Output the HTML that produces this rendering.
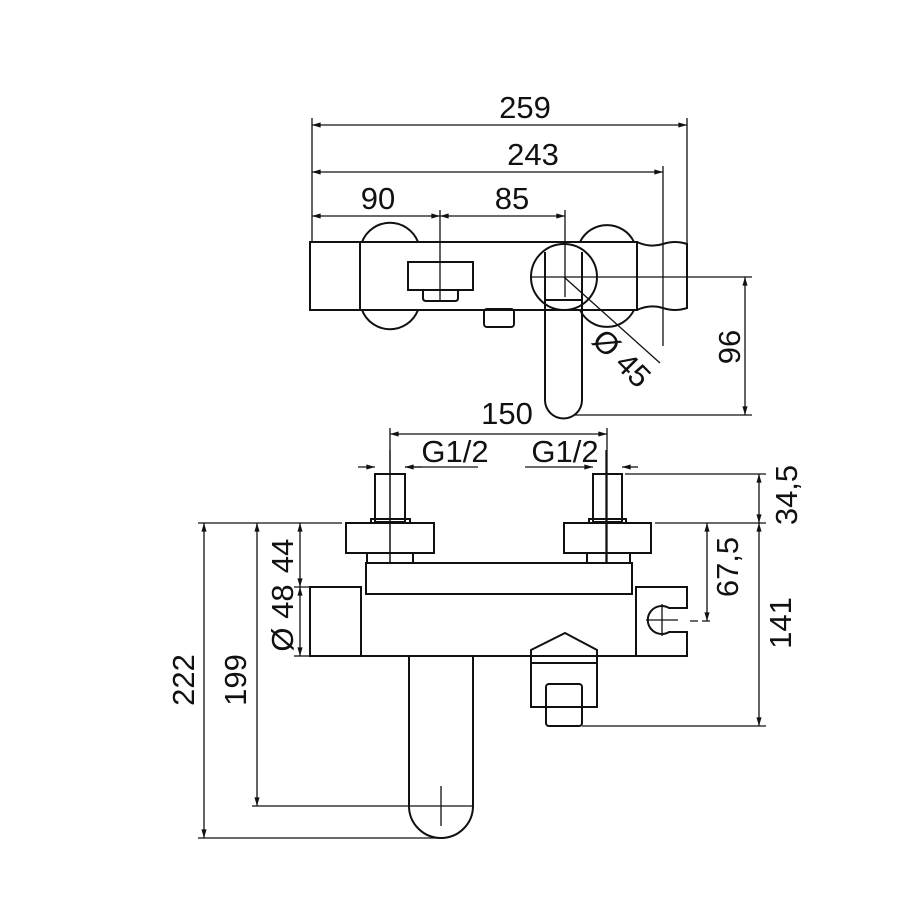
<!DOCTYPE html>
<html><head><meta charset="utf-8"><style>
html,body{margin:0;padding:0;background:#fff}
svg{display:block}
text{font-family:"Liberation Sans",Arial,sans-serif;font-size:31px;fill:#111;text-anchor:middle}
</style></head><body>
<svg width="900" height="909" viewBox="0 0 900 909" xmlns="http://www.w3.org/2000/svg">
<defs>
<marker id="a" viewBox="0 0 10 6" refX="10" refY="3" markerWidth="7" markerHeight="4" orient="auto-start-reverse"><path d="M0,0L10,3L0,6z" fill="#111"/></marker>
</defs>
<g stroke="#111" fill="none" stroke-width="1.3">
<line x1="312" y1="118" x2="312" y2="242"/>
<line x1="687" y1="118" x2="687" y2="244"/>
<line x1="663" y1="166" x2="663" y2="346"/>
<line x1="312" y1="125" x2="687" y2="125" marker-start="url(#a)" marker-end="url(#a)"/>
<line x1="312" y1="172" x2="663" y2="172" marker-start="url(#a)" marker-end="url(#a)"/>
<line x1="312" y1="216" x2="440" y2="216" marker-start="url(#a)" marker-end="url(#a)"/>
<line x1="440" y1="216" x2="565" y2="216" marker-start="url(#a)" marker-end="url(#a)"/>
<line x1="440" y1="210" x2="440" y2="300"/>
<line x1="565" y1="210" x2="565" y2="297"/>
<line x1="530" y1="277" x2="752" y2="277"/>
<line x1="575" y1="415" x2="752" y2="415"/>
<line x1="745" y1="277" x2="745" y2="415" marker-start="url(#a)" marker-end="url(#a)"/>
<line x1="564" y1="277" x2="660" y2="363"/>
</g>
<g stroke="#111" fill="none" stroke-width="2">
<path d="M362,242 A30,30 0 0 1 418,242"/>
<path d="M362,310 A30,30 0 0 0 418,310"/>
<path d="M580,242 A30,30 0 0 1 634,242"/>
<path d="M580,310 A30,30 0 0 0 634,310"/>
<rect x="310" y="242" width="327" height="68"/>
<line x1="360" y1="242" x2="360" y2="310"/>
<path d="M637,242 Q650,248 663,244 Q675,240 687,244 L687,308 Q675,312 663,308 Q650,304 637,310"/>
<rect x="408" y="262" width="65" height="28"/>
<path d="M423,290 L423,298 Q423,301 426,301 L455,301 Q458,301 458,298 L458,290"/>
<rect x="484" y="309" width="30" height="18" rx="3"/>
<circle cx="564" cy="277" r="33"/>
<path d="M545,252 L545,400 A18.5,18.5 0 0 0 582,400 L582,252"/>
<line x1="545" y1="300" x2="582" y2="300"/>
</g>
<text x="525" y="118">259</text>
<text x="533" y="165">243</text>
<text x="378" y="209">90</text>
<text x="512" y="209">85</text>
<text transform="translate(729,347) rotate(-90)" dy="11">96</text>
<text transform="translate(622,358) rotate(45)" dy="11">Ø 45</text>

<g stroke="#111" fill="none" stroke-width="1.3">
<line x1="390" y1="428" x2="390" y2="562"/>
<line x1="607" y1="428" x2="607" y2="562"/>
<line x1="390" y1="434" x2="607" y2="434" marker-start="url(#a)" marker-end="url(#a)"/>
<line x1="358" y1="467" x2="375" y2="467" marker-end="url(#a)"/>
<line x1="422" y1="467" x2="405" y2="467" marker-end="url(#a)"/>
<line x1="405" y1="467" x2="478" y2="467"/>
<line x1="525" y1="467" x2="593" y2="467" marker-end="url(#a)"/>
<line x1="638" y1="467" x2="622" y2="467" marker-end="url(#a)"/>
<line x1="625" y1="474" x2="766" y2="474"/>
<line x1="655" y1="523" x2="766" y2="523"/>
<line x1="582" y1="726" x2="766" y2="726"/>
<line x1="759" y1="474" x2="759" y2="523" marker-start="url(#a)" marker-end="url(#a)"/>
<line x1="759" y1="523" x2="759" y2="726" marker-start="url(#a)" marker-end="url(#a)"/>
<line x1="707" y1="523" x2="707" y2="621" marker-start="url(#a)" marker-end="url(#a)"/>
<line x1="690" y1="621" x2="712" y2="621" stroke-dasharray="8,4"/>
<line x1="198" y1="523" x2="342" y2="523"/>
<line x1="198" y1="838" x2="445" y2="838"/>
<line x1="252" y1="806" x2="410" y2="806"/>
<line x1="294" y1="587" x2="345" y2="587"/>
<line x1="294" y1="656" x2="310" y2="656"/>
<line x1="204" y1="523" x2="204" y2="838" marker-start="url(#a)" marker-end="url(#a)"/>
<line x1="257" y1="523" x2="257" y2="806" marker-start="url(#a)" marker-end="url(#a)"/>
<line x1="300" y1="523" x2="300" y2="587" marker-start="url(#a)" marker-end="url(#a)"/>
<line x1="300" y1="587" x2="300" y2="656" marker-start="url(#a)" marker-end="url(#a)"/>
<line x1="390" y1="450" x2="390" y2="562"/>
<line x1="606" y1="450" x2="606" y2="562"/>
<line x1="410" y1="806" x2="472" y2="806"/>
<line x1="441" y1="786" x2="441" y2="826"/>
<line x1="646" y1="620" x2="678" y2="620"/>
<line x1="662" y1="604" x2="662" y2="636"/>
</g>
<g stroke="#111" fill="none" stroke-width="2">
<rect x="375" y="474" width="30" height="48"/>
<rect x="371" y="519" width="39" height="4"/>
<rect x="346" y="523" width="88" height="30"/>
<rect x="367" y="553" width="46" height="10"/>
<rect x="593" y="474" width="29" height="48"/>
<rect x="589" y="519" width="37" height="4"/>
<rect x="564" y="523" width="87" height="30"/>
<rect x="587" y="553" width="43" height="10"/>
<rect x="366" y="563" width="266" height="31"/>
<rect x="310" y="587" width="51" height="69"/>
<path d="M361,594 L361,656 L636,656 L636,594"/>
<path d="M636,587 L687,587 L687,608 L669,608 A14,14 0 1 0 669,632 L687,632 L687,656 L636,656 Z"/>
<path d="M409,656 L409,806 A32,32 0 0 0 473,806 L473,656"/>
<path d="M531,663 L531,650 L565,633 L597,650 L597,663"/>
<rect x="531" y="663" width="66" height="44"/>
<rect x="546" y="684" width="36" height="42" rx="3"/>
</g>
<text x="507" y="424">150</text>
<text x="455" y="462">G1/2</text>
<text x="565" y="462">G1/2</text>
<text transform="translate(786,495) rotate(-90)" dy="11">34,5</text>
<text transform="translate(727,567) rotate(-90)" dy="11">67,5</text>
<text transform="translate(780,623) rotate(-90)" dy="11">141</text>
<text transform="translate(183,680) rotate(-90)" dy="11">222</text>
<text transform="translate(235,680) rotate(-90)" dy="11">199</text>
<text transform="translate(282,556) rotate(-90)" dy="11">44</text>
<text transform="translate(282,618) rotate(-90)" dy="11">Ø 48</text>
</svg>
</body></html>
